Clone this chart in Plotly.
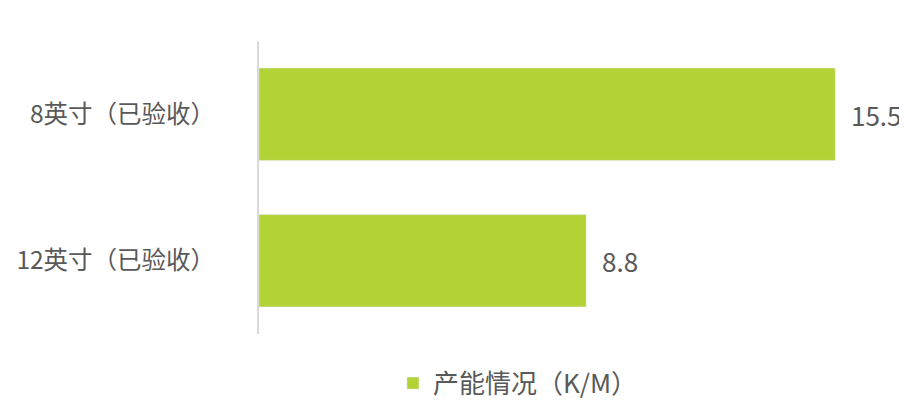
import plotly.graph_objects as go

categories = ["8英寸（已验收）", "12英寸（已验收）"]
values = [15.5, 8.8]
series_name = "产能情况（K/M）"

font_family = "Microsoft YaHei, Noto Sans CJK SC, sans-serif"
grey = "#595959"
fs = 26

fig = go.Figure()
fig.add_trace(go.Bar(
    y=categories, x=values, orientation="h", name=series_name,
    marker=dict(color="#b2d235"),
    cliponaxis=False,
))
for c, v in zip(categories, values):
    fig.add_annotation(x=v, y=c, text=f"{v:g}", showarrow=False,
                       xanchor="left", xshift=14,
                       font=dict(size=fs, color=grey, family=font_family))
fig.update_layout(
    width=907, height=401,
    margin=dict(l=251, r=24, t=33, b=75, autoexpand=False),
    paper_bgcolor="white", plot_bgcolor="white",
    bargap=0.37,
    font=dict(family=font_family, color=grey, size=fs),
    showlegend=True,
    legend=dict(orientation="h", x=0.212, xanchor="left", y=-0.168, yanchor="middle",
                font=dict(size=fs, color=grey), itemwidth=30, tracegroupgap=0),
    xaxis=dict(range=[0, 17], visible=False, automargin=False),
    yaxis=dict(autorange="reversed", showline=True, linecolor="#d9d9d9", linewidth=2,
               ticks="", showgrid=False, ticklabelstandoff=37, automargin=False,
               tickfont=dict(size=24.5, color=grey)),
)
fig.write_html("out.html")
